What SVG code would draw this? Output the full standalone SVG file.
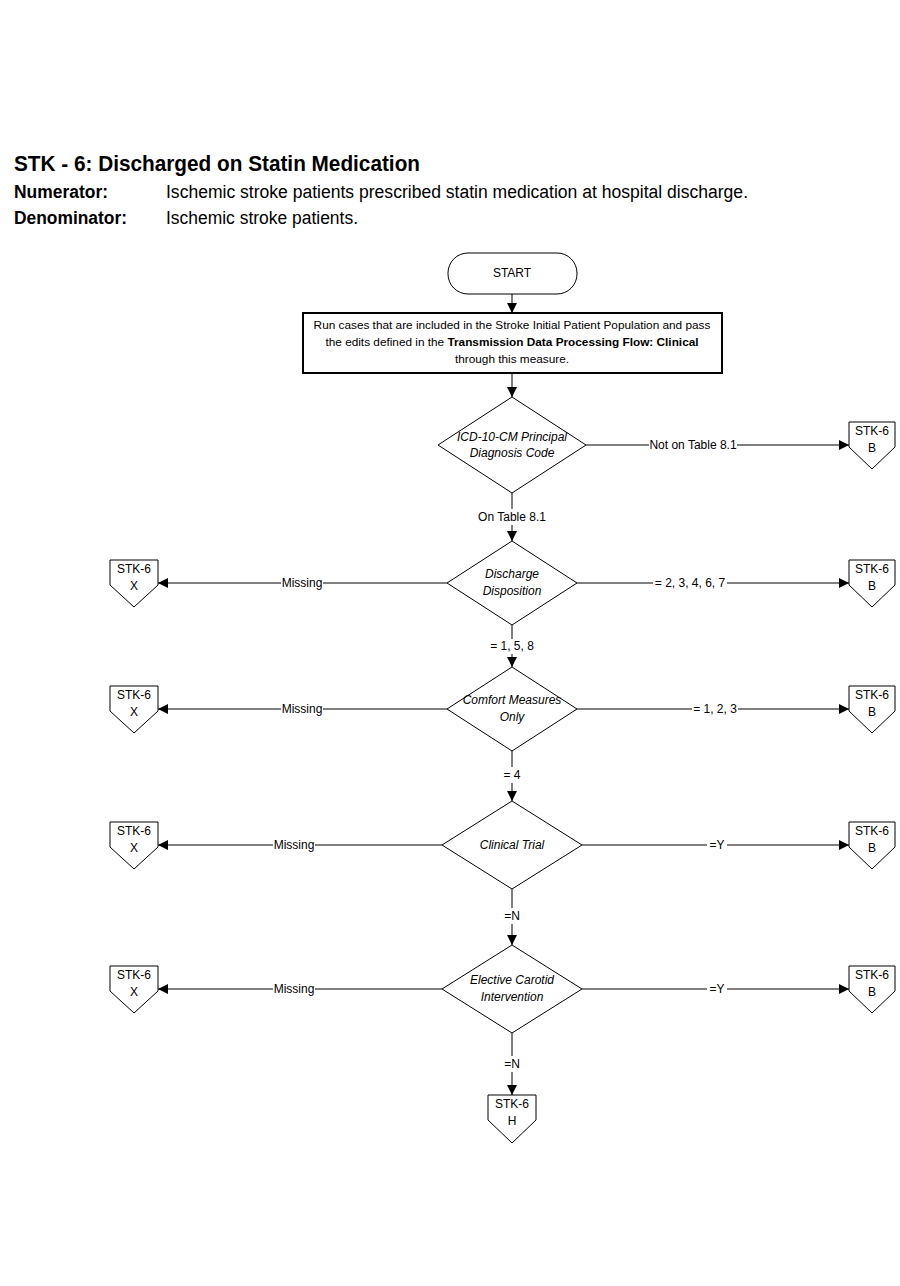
<svg xmlns="http://www.w3.org/2000/svg" width="900" height="1286" viewBox="0 0 900 1286">
<defs>
<marker id="ah" viewBox="0 0 10 10" refX="10" refY="5" markerWidth="10" markerHeight="10" markerUnits="userSpaceOnUse" orient="auto">
<path d="M0,0 L10,5 L0,10 z" fill="#000"/>
</marker>
</defs>
<style>
text{font-family:"Liberation Sans",Arial,sans-serif;fill:#000}
.hd{font-size:22px;font-weight:bold}
.hl{font-size:18px;font-weight:bold}
.ht{font-size:18px}
.t{font-size:11.8px;text-anchor:middle}
.lb{font-size:12px;text-anchor:middle}
.dt{font-size:12px;font-style:italic;text-anchor:middle}
.sh{fill:#fff;stroke:#000;stroke-width:1}
.box{fill:#fff;stroke:#000;stroke-width:2}
.ln{stroke:#000;stroke-width:1;fill:none}
.ar{stroke:#000;stroke-width:1;fill:none;marker-end:url(#ah)}
</style>
<rect width="900" height="1286" fill="#fff"/>

<g id="header">
<text class="hd" x="14" y="171" textLength="406" lengthAdjust="spacingAndGlyphs">STK - 6:  Discharged on Statin Medication</text>
<text class="hl" x="14" y="198" textLength="94" lengthAdjust="spacingAndGlyphs">Numerator:</text>
<text class="ht" x="166" y="198" textLength="582" lengthAdjust="spacingAndGlyphs">Ischemic stroke patients prescribed statin medication at hospital discharge.</text>
<text class="hl" x="14" y="224" textLength="113" lengthAdjust="spacingAndGlyphs">Denominator:</text>
<text class="ht" x="166" y="224" textLength="192" lengthAdjust="spacingAndGlyphs">Ischemic stroke patients.</text>
</g>

<g id="start">
<rect class="sh" x="448" y="253" width="129" height="41" rx="20" ry="20"/>
<text class="lb" x="512" y="277">START</text>
</g>

<g id="run-cases">
<rect class="box" x="303" y="313" width="419" height="60"/>
<text class="t" x="512" y="329">Run cases that are included in the Stroke Initial Patient  Population and pass</text>
<text class="t" x="512" y="346">the edits defined in the <tspan font-weight="bold">Transmission Data Processing Flow: Clinical</tspan></text>
<text class="t" x="512" y="363">through this measure.</text>
</g>

<g id="d-icd">
<polygon class="sh" points="512,397 586,445 512,493 438,445"/>
<text class="dt" x="512" y="441">ICD-10-CM Principal</text>
<text class="dt" x="512" y="457">Diagnosis Code</text>
</g>

<g id="d-disch">
<polygon class="sh" points="512,541 577,583 512,625 447,583"/>
<text class="dt" x="512" y="578">Discharge</text>
<text class="dt" x="512" y="595">Disposition</text>
</g>

<g id="d-comfort">
<polygon class="sh" points="512,667 577,709 512,751 447,709"/>
<text class="dt" x="512" y="704">Comfort Measures</text>
<text class="dt" x="512" y="721">Only</text>
</g>

<g id="d-trial">
<polygon class="sh" points="512,801 582,845 512,889 442,845"/>
<text class="dt" x="512" y="849">Clinical Trial</text>
</g>

<g id="d-carotid">
<polygon class="sh" points="512,945 582,989 512,1033 442,989"/>
<text class="dt" x="512" y="984">Elective Carotid</text>
<text class="dt" x="512" y="1001">Intervention</text>
</g>

<g id="b1">
<polygon class="sh" points="849,422 895,422 895,447 872,469 849,447"/>
<text class="lb" x="872" y="435">STK-6</text><text class="lb" x="872" y="452">B</text>
</g>
<g id="b2">
<polygon class="sh" points="849,560 895,560 895,585 872,607 849,585"/>
<text class="lb" x="872" y="573">STK-6</text><text class="lb" x="872" y="590">B</text>
</g>
<g id="b3">
<polygon class="sh" points="849,686 895,686 895,711 872,733 849,711"/>
<text class="lb" x="872" y="699">STK-6</text><text class="lb" x="872" y="716">B</text>
</g>
<g id="b4">
<polygon class="sh" points="849,822 895,822 895,847 872,869 849,847"/>
<text class="lb" x="872" y="835">STK-6</text><text class="lb" x="872" y="852">B</text>
</g>
<g id="b5">
<polygon class="sh" points="849,966 895,966 895,991 872,1013 849,991"/>
<text class="lb" x="872" y="979">STK-6</text><text class="lb" x="872" y="996">B</text>
</g>

<g id="x2">
<polygon class="sh" points="110,560 158,560 158,585 134,607 110,585"/>
<text class="lb" x="134" y="573">STK-6</text><text class="lb" x="134" y="590">X</text>
</g>
<g id="x3">
<polygon class="sh" points="110,686 158,686 158,711 134,733 110,711"/>
<text class="lb" x="134" y="699">STK-6</text><text class="lb" x="134" y="716">X</text>
</g>
<g id="x4">
<polygon class="sh" points="110,822 158,822 158,847 134,869 110,847"/>
<text class="lb" x="134" y="835">STK-6</text><text class="lb" x="134" y="852">X</text>
</g>
<g id="x5">
<polygon class="sh" points="110,966 158,966 158,991 134,1013 110,991"/>
<text class="lb" x="134" y="979">STK-6</text><text class="lb" x="134" y="996">X</text>
</g>

<g id="h">
<polygon class="sh" points="488,1095 536,1095 536,1120 512,1143 488,1120"/>
<text class="lb" x="512" y="1108">STK-6</text><text class="lb" x="512" y="1125">H</text>
</g>

<g id="connectors">
<line class="ar" x1="512" y1="294" x2="512" y2="313"/>
<line class="ar" x1="512" y1="373" x2="512" y2="397"/>

<line class="ln" x1="586" y1="445" x2="649" y2="445"/>
<text class="lb" x="693" y="449">Not on Table 8.1</text>
<line class="ar" x1="737" y1="445" x2="849" y2="445"/>

<line class="ln" x1="512" y1="493" x2="512" y2="509"/>
<text class="lb" x="512" y="521">On Table 8.1</text>
<line class="ar" x1="512" y1="525" x2="512" y2="541"/>

<line class="ln" x1="447" y1="583" x2="323" y2="583"/>
<text class="lb" x="302" y="587">Missing</text>
<line class="ar" x1="281" y1="583" x2="158" y2="583"/>
<line class="ln" x1="577" y1="583" x2="653" y2="583"/>
<text class="lb" x="690" y="587">=  2, 3, 4, 6, 7</text>
<line class="ar" x1="727" y1="583" x2="849" y2="583"/>

<line class="ln" x1="512" y1="625" x2="512" y2="639"/>
<text class="lb" x="512" y="650">= 1, 5, 8</text>
<line class="ar" x1="512" y1="654" x2="512" y2="667"/>

<line class="ln" x1="447" y1="709" x2="323" y2="709"/>
<text class="lb" x="302" y="713">Missing</text>
<line class="ar" x1="281" y1="709" x2="158" y2="709"/>
<line class="ln" x1="577" y1="709" x2="692" y2="709"/>
<text class="lb" x="715" y="713">= 1, 2, 3</text>
<line class="ar" x1="738" y1="709" x2="849" y2="709"/>

<line class="ln" x1="512" y1="751" x2="512" y2="767"/>
<text class="lb" x="512" y="779">= 4</text>
<line class="ar" x1="512" y1="783" x2="512" y2="801"/>

<line class="ln" x1="442" y1="845" x2="315" y2="845"/>
<text class="lb" x="294" y="849">Missing</text>
<line class="ar" x1="273" y1="845" x2="158" y2="845"/>
<line class="ln" x1="582" y1="845" x2="707" y2="845"/>
<text class="lb" x="717" y="849">=Y</text>
<line class="ar" x1="727" y1="845" x2="849" y2="845"/>

<line class="ln" x1="512" y1="889" x2="512" y2="908"/>
<text class="lb" x="512" y="920">=N</text>
<line class="ar" x1="512" y1="924" x2="512" y2="945"/>

<line class="ln" x1="442" y1="989" x2="315" y2="989"/>
<text class="lb" x="294" y="993">Missing</text>
<line class="ar" x1="273" y1="989" x2="158" y2="989"/>
<line class="ln" x1="582" y1="989" x2="707" y2="989"/>
<text class="lb" x="717" y="993">=Y</text>
<line class="ar" x1="727" y1="989" x2="849" y2="989"/>

<line class="ln" x1="512" y1="1033" x2="512" y2="1056"/>
<text class="lb" x="512" y="1068">=N</text>
<line class="ar" x1="512" y1="1072" x2="512" y2="1095"/>
</g>
</svg>
